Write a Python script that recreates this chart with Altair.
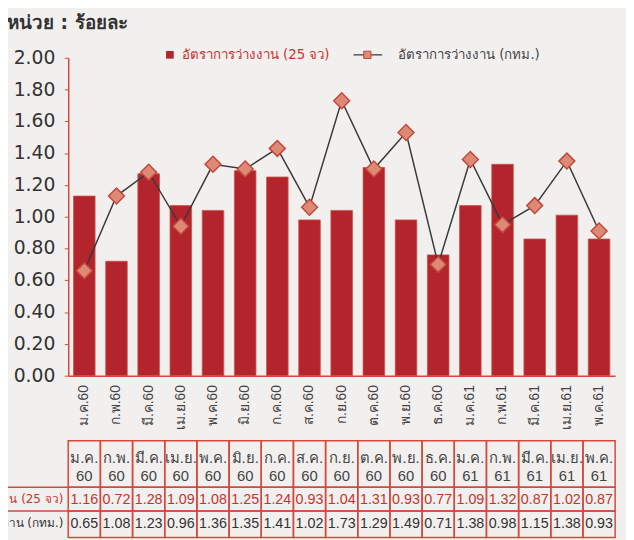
import altair as alt
import pandas as pd

labels = ["ม.ค.60", "ก.พ.60", "มี.ค.60", "เม.ย.60", "พ.ค.60", "มิ.ย.60", "ก.ค.60", "ส.ค.60",
          "ก.ย.60", "ต.ค.60", "พ.ย.60", "ธ.ค.60", "ม.ค.61", "ก.พ.61", "มี.ค.61", "เม.ย.61", "พ.ค.61"]
head_month = ["ม.ค.", "ก.พ.", "มี.ค.", "เม.ย.", "พ.ค.", "มิ.ย.", "ก.ค.", "ส.ค.",
              "ก.ย.", "ต.ค.", "พ.ย.", "ธ.ค.", "ม.ค.", "ก.พ.", "มี.ค.", "เม.ย.", "พ.ค."]
head_year = ["60"] * 12 + ["61"] * 5
# values as drawn in the chart
bars_25 = [1.13, 0.72, 1.27, 1.07, 1.04, 1.29, 1.25, 0.98, 1.04, 1.31, 0.98, 0.76, 1.07, 1.33, 0.86, 1.01, 0.86]
line_bkk = [0.66, 1.13, 1.28, 0.94, 1.33, 1.30, 1.43, 1.06, 1.73, 1.30, 1.53, 0.70, 1.36, 0.95, 1.07, 1.35, 0.91]
# values printed in the table
table_25 = ["1.16", "0.72", "1.28", "1.09", "1.08", "1.25", "1.24", "0.93", "1.04", "1.31", "0.93", "0.77",
            "1.09", "1.32", "0.87", "1.02", "0.87"]
table_bkk = ["0.65", "1.08", "1.23", "0.96", "1.36", "1.35", "1.41", "1.02", "1.73", "1.29", "1.49", "0.71",
             "1.38", "0.98", "1.15", "1.38", "0.93"]
y_ticks = [0.0, 0.2, 0.4, 0.6, 0.8, 1.0, 1.2, 1.4, 1.6, 1.8, 2.0]
series_25 = "อัตราการว่างงาน (25 จว)"
series_bkk = "อัตราการว่างงาน (กทม.)"
unit_title = "หน่วย : ร้อยละ"

df = pd.DataFrame({"label": labels, "m": head_month, "yr": head_year,
                   "b": bars_25, "l": line_bkk, "t25": table_25, "tb": table_bkk})
tick_df = pd.DataFrame({"v": y_ticks})
one = pd.DataFrame({"k": [0]})

W, H = 554, 322
FONT = "DejaVu Sans"
TFONT = "Liberation Sans"
RED = "#b4242c"
LINE_RED = "#d4483e"

xenc = alt.X("label:N", sort=labels, title=None,
             scale=alt.Scale(paddingInner=0, paddingOuter=0),
             axis=alt.Axis(labelAngle=-90, labelFontSize=14, labelColor="#444", labelFont=TFONT,
                           ticks=False, domainColor=LINE_RED, domainWidth=1.5, labelPadding=9))
yscale = alt.Scale(domain=[0, 2])
yaxis = alt.Axis(values=y_ticks, labels=False, grid=False,
                 domainColor=LINE_RED, domainWidth=1.5, tickColor=LINE_RED, tickSize=4)

base = alt.Chart(df)

bars = base.mark_bar(width=alt.RelativeBandSize(0.67), color=RED, stroke="#cf5148", strokeWidth=0.8).encode(
    x=xenc,
    y=alt.Y("b:Q", scale=yscale, title=None, axis=yaxis),
)
line = base.mark_line(color="#3a3a3a", strokeWidth=1.5).encode(
    x=alt.X("label:N", sort=labels), y=alt.Y("l:Q", scale=yscale, title=None, axis=yaxis))
pts = base.mark_point(shape="diamond", size=260, filled=True, fill="#dc8a76", stroke="#c4473b",
                      strokeWidth=1.5, opacity=1).encode(
    x=alt.X("label:N", sort=labels), y=alt.Y("l:Q", scale=yscale, title=None, axis=yaxis))

# y tick labels
ylab = alt.Chart(tick_df).mark_text(align="right", baseline="middle", fontSize=19, color="#333",
                                    font=FONT).encode(
    x=alt.value(-13), y=alt.Y("v:Q", scale=yscale, title=None, axis=yaxis),
    text=alt.Text("v:Q", format=".2f"))

# table
rows = [(388, 435), (435, 459), (459, 486)]
cells = []
for (t, b) in rows:
    cells.append(base.mark_rect(fillOpacity=0, stroke=LINE_RED, strokeWidth=1.5).encode(
        x=alt.X("label:N", sort=labels), y=alt.value(t), y2=alt.value(b)))
hm = base.mark_text(fontSize=15, color="#444", font=TFONT).encode(
    x=alt.X("label:N", sort=labels), y=alt.value(405), text="m:N")
hy = base.mark_text(fontSize=15, color="#444", font=TFONT).encode(
    x=alt.X("label:N", sort=labels), y=alt.value(424), text="yr:N")
r25 = base.mark_text(fontSize=14.5, color="#c8322c", font=TFONT).encode(
    x=alt.X("label:N", sort=labels), y=alt.value(448), text="t25:N")
rbk = base.mark_text(fontSize=14.5, color="#333", font=TFONT).encode(
    x=alt.X("label:N", sort=labels), y=alt.value(472), text="tb:N")

oc = alt.Chart(one)
hrules = [oc.mark_rule(color=LINE_RED, strokeWidth=1.5).encode(
    x=alt.value(-70), x2=alt.value(0), y=alt.value(v)) for v in (435, 459)]
lab25 = oc.mark_text(align="right", fontSize=12, color="#c8322c", font=FONT).encode(
    x=alt.value(-5), y=alt.value(447), text=alt.value(series_25))
labbk = oc.mark_text(align="right", fontSize=12, color="#333", font=FONT).encode(
    x=alt.value(-5), y=alt.value(471), text=alt.value(series_bkk))

# legend and unit title
title = oc.mark_text(align="left", fontSize=19, fontWeight="bold", color="#333", font=FONT).encode(
    x=alt.value(-62), y=alt.value(-35), text=alt.value(unit_title))
lg_sq = oc.mark_square(size=60, color=RED, opacity=1).encode(x=alt.value(103), y=alt.value(-3))
lg_t1 = oc.mark_text(align="left", fontSize=13.5, color="#c8322c", font=FONT).encode(
    x=alt.value(115), y=alt.value(-3), text=alt.value(series_25))
lg_ln = oc.mark_rule(color="#555", strokeWidth=1.5).encode(
    x=alt.value(289), x2=alt.value(318), y=alt.value(-3))
lg_sq2 = oc.mark_square(size=55, fill="#dc8a76", stroke="#c4473b", strokeWidth=1, opacity=1).encode(
    x=alt.value(303), y=alt.value(-3))
lg_t2 = oc.mark_text(align="left", fontSize=13.5, color="#444", font=FONT).encode(
    x=alt.value(334), y=alt.value(-3), text=alt.value(series_bkk))

chart = alt.layer(bars, line, pts, ylab, *cells, hm, hy, r25, rbk, *hrules, lab25, labbk,
                  title, lg_sq, lg_t1, lg_ln, lg_sq2, lg_t2).properties(
    width=W, height=H,
    autosize=alt.AutoSizeParams(type="none"),
    padding={"left": 61, "top": 47, "right": 11, "bottom": 163},
    background="#f2f0ef",
).configure_view(stroke=None)

chart.save("out.html", embed_options={"renderer": "svg", "actions": False})
